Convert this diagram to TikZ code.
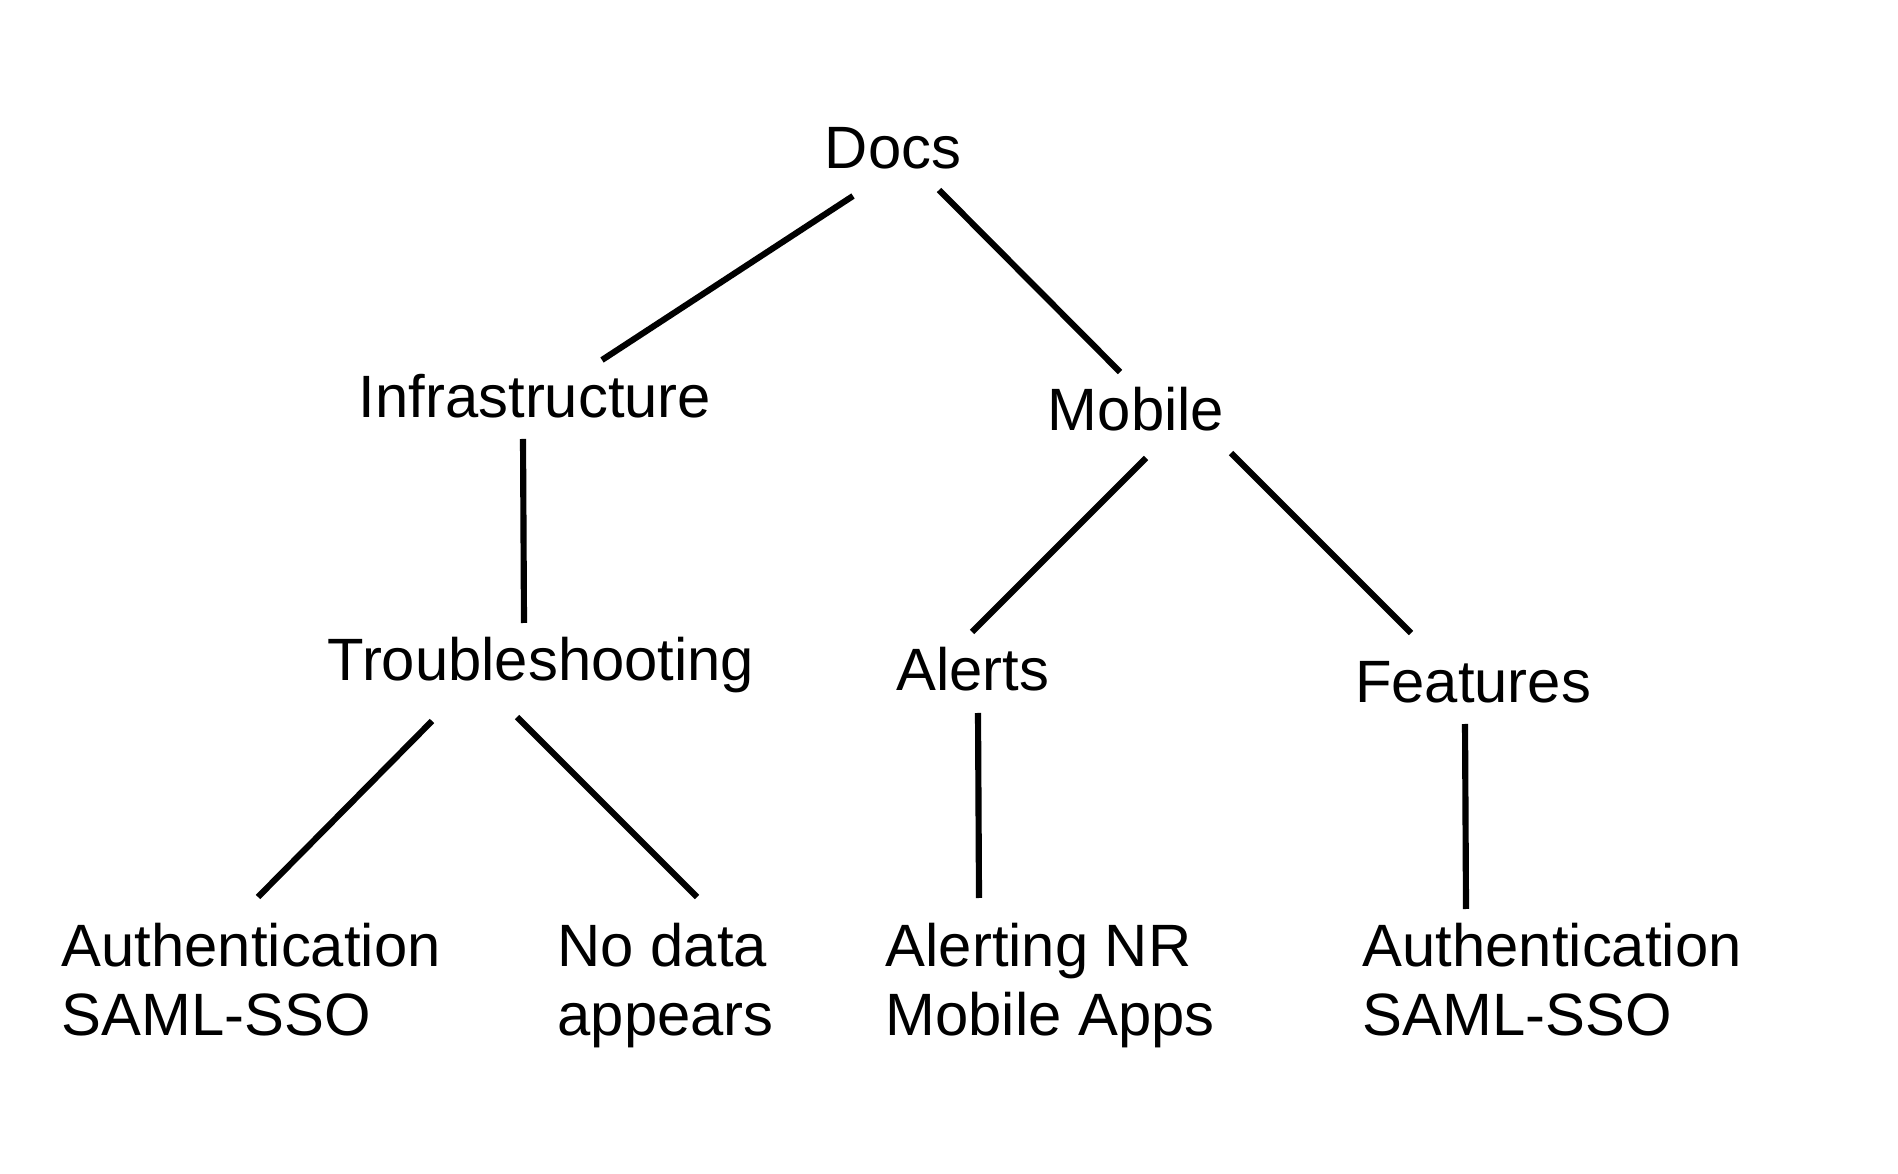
\documentclass[tikz,border=0pt]{standalone}
\usepackage{fontspec}
\setmainfont{Liberation Sans}
\begin{document}
\begin{tikzpicture}[x=0.01cm, y=-0.01cm,
    lbl/.style={inner sep=0pt, font=\fontsize{17}{19.6}\selectfont},
    leaf/.style={lbl, align=left, anchor=base west},
    edge/.style={line width=1.75pt}]
  \useasboundingbox (0,0) rectangle (1898,1174);
  % inner levels
  \node[lbl, anchor=base] (docs)   at (893,169)  {Docs};
  \node[lbl, anchor=base] (infra)  at (535,418)  {Infrastructure};
  \node[lbl, anchor=base] (mobile) at (1136,431) {Mobile};
  \node[lbl, anchor=base] (trbl)   at (541,681)  {Troubleshooting};
  \node[lbl, anchor=base] (alerts) at (973,691)  {Alerts};
  \node[lbl, anchor=base] (feat)   at (1473,703) {Features};
  % leaves (base = last line)
  \node[leaf] (authA)  at (61,1035)   {Authentication\\SAML-SSO};
  \node[leaf] (nodata) at (557,1035)  {No data\\appears};
  \node[leaf] (alrtNR) at (885,1035)  {Alerting NR\\Mobile Apps};
  \node[leaf] (authB)  at (1362,1035) {Authentication\\SAML-SSO};
  % connectors
  \foreach \a/\ax/\ay/\b/\bx/\by in {
      docs.base/-40/27/infra.base/67/-58,
      docs.base/46/21/mobile.base/-16/-59,
      infra.base/-12/21/trbl.base/-17/-58,
      mobile.base/10/27/alerts.base/-1/-59,
      mobile.base/95/22/feat.base/-62/-70,
      trbl.base/-109/40/authA.base west/197/-138,
      trbl.base/-24/36/nodata.base west/140/-138,
      alerts.base/5/22/alrtNR.base west/94/-137,
      feat.base/-8/21/authB.base west/104/-126} {
    \draw[edge] ([shift={(\ax,\ay)}]\a) -- ([shift={(\bx,\by)}]\b);
  }
\end{tikzpicture}
\end{document}
